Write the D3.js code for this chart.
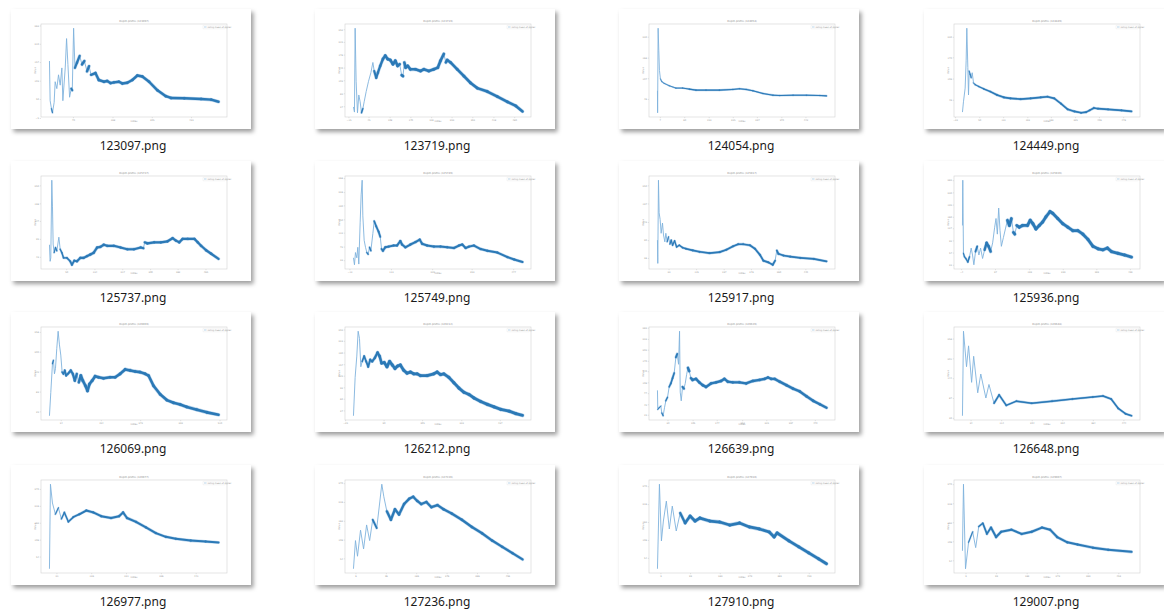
<!DOCTYPE html>
<html>
<head>
<meta charset="utf-8">
<script src="https://cdn.jsdelivr.net/npm/d3@7/dist/d3.min.js"></script>
<style>
  html, body { margin: 0; padding: 0; background: #ffffff; }
  svg { display: block; }
</style>
</head>
<body>
<svg id="grid" width="1164" height="611"></svg>
<script>
// File names shown under each thumbnail
const fileNames = ["123097.png", "123719.png", "124054.png", "124449.png",
                   "125737.png", "125749.png", "125917.png", "125936.png",
                   "126069.png", "126212.png", "126639.png", "126648.png",
                   "126977.png", "127236.png", "127910.png", "129007.png"];

// Series for each run: [step, value]
const run123097 = [[0,160],[2,45],[6,22],[9,10],[14,40],[17,100],[22,80],[27,120],[32,90],[37,140],[40,45],[47,140],[51,225],[55,150],[60,55],[65,80],[68,75],[72,255],[76,140],[82,155],[90,175],[97,150],[104,160],[112,130],[118,145],[124,120],[137,125],[147,105],[162,100],[172,102],[182,96],[192,98],[207,100],[217,95],[232,97],[247,105],[262,118],[277,115],[297,100],[322,75],[347,58],[362,53],[402,52],[452,50],[482,48],[504,42]];
const run123719 = [[0,25],[3,10],[5,255],[8,100],[12,8],[16,60],[20,40],[24,8],[28,20],[32,40],[38,70],[45,100],[52,125],[58,155],[62,130],[68,110],[73,125],[80,145],[88,165],[95,175],[102,165],[110,162],[118,150],[125,160],[132,145],[138,150],[144,118],[148,115],[152,155],[156,140],[162,145],[170,135],[185,135],[200,130],[210,135],[225,130],[240,135],[252,140],[260,160],[270,180],[276,155],[280,162],[290,155],[310,135],[330,115],[350,95],[370,80],[400,70],[430,55],[460,40],[485,28],[505,12]];
const run124054 = [[0,70],[0.5,5],[2,255],[4,190],[6,130],[9,105],[13,97],[20,92],[35,85],[55,78],[75,78],[95,75],[115,72],[145,72],[185,72],[225,74],[245,76],[265,74],[285,70],[315,62],[345,57],[365,56],[405,57],[445,57],[485,56],[505,55]];
const run124449 = [[0,10],[3,40],[8,80],[11,160],[13,255],[16,140],[18,60],[20,130],[23,120],[26,110],[29,125],[33,95],[38,90],[48,85],[63,78],[83,70],[103,60],[123,53],[143,50],[173,48],[203,50],[233,53],[253,55],[273,50],[293,35],[313,18],[333,12],[353,8],[368,10],[378,15],[391,22],[403,20],[433,18],[473,15],[503,12]];
const run125737 = [[0,78],[2,30],[4,40],[7,265],[9,190],[11,80],[14,55],[18,70],[22,60],[28,100],[32,65],[37,55],[42,40],[52,40],[62,30],[67,20],[74,32],[82,30],[92,40],[102,40],[112,45],[122,50],[132,55],[142,70],[152,72],[162,78],[172,75],[192,75],[212,70],[232,65],[252,65],[272,70],[280,68],[284,85],[292,82],[312,85],[332,85],[352,88],[367,97],[377,90],[387,85],[397,95],[412,95],[432,95],[442,85],[452,75],[467,62],[482,52],[504,37]];
const run125749 = [[0,40],[3,20],[6,55],[10,40],[13,70],[16,22],[20,140],[23,220],[26,262],[28,160],[32,90],[36,70],[40,55],[44,50],[48,70],[52,60],[58,110],[62,145],[68,130],[75,115],[80,100],[84,65],[88,60],[95,70],[105,72],[120,75],[130,75],[140,88],[145,78],[155,70],[170,78],[185,85],[198,92],[205,80],[220,75],[240,72],[260,72],[280,70],[300,68],[315,75],[325,78],[335,68],[345,72],[360,75],[380,65],[400,60],[430,55],[460,42],[480,35],[505,28]];
const run125917 = [[0,90],[1,22],[3,265],[5,170],[8,150],[11,110],[15,140],[18,105],[22,85],[25,110],[29,85],[33,100],[37,78],[41,90],[45,75],[51,88],[57,70],[65,75],[75,68],[85,65],[105,60],[125,56],[155,52],[185,55],[205,62],[225,72],[240,78],[255,78],[275,75],[290,65],[305,47],[315,30],[330,25],[343,18],[350,30],[355,60],[360,50],[375,45],[395,42],[425,38],[465,35],[503,28]];
const run125936 = [[0,135],[1,265],[3,55],[6,45],[10,40],[16,30],[21,45],[26,70],[30,50],[34,22],[39,60],[44,75],[49,50],[54,70],[60,40],[66,65],[72,85],[78,75],[84,60],[90,85],[96,130],[100,155],[104,110],[108,185],[112,120],[116,75],[122,100],[128,125],[134,150],[140,135],[146,155],[152,115],[156,110],[162,135],[169,130],[179,135],[194,135],[202,150],[210,140],[219,125],[229,135],[239,145],[249,160],[261,175],[269,170],[284,155],[299,140],[314,130],[329,120],[344,120],[359,110],[374,95],[389,75],[404,68],[419,65],[432,70],[444,60],[464,55],[484,50],[504,44]];
const run126069 = [[0,12],[4,80],[9,165],[12,175],[15,135],[18,150],[22,210],[26,260],[30,220],[34,190],[38,140],[42,135],[46,145],[50,130],[55,135],[60,140],[64,145],[70,135],[76,115],[82,135],[88,110],[94,130],[100,115],[108,100],[114,85],[120,105],[128,115],[137,128],[147,125],[162,122],[182,125],[197,125],[212,135],[227,148],[242,145],[257,142],[272,140],[287,135],[297,130],[312,100],[332,75],[352,58],[372,50],[392,45],[412,38],[442,30],[472,22],[507,15]];
const run126212 = [[0,12],[5,120],[10,180],[14,250],[18,230],[22,150],[26,165],[32,180],[38,165],[44,150],[50,170],[56,165],[64,175],[72,190],[78,180],[84,160],[92,162],[100,150],[108,165],[116,155],[124,145],[132,152],[140,155],[150,140],[160,132],[170,135],[180,130],[190,130],[200,125],[220,125],[240,130],[250,135],[260,128],[270,130],[285,120],[300,105],[315,90],[330,78],[345,72],[360,62],[380,52],[400,44],[420,37],[440,30],[465,25],[485,18],[505,13]];
const run126639 = [[0,85],[1,30],[5,35],[10,40],[13,20],[17,12],[21,35],[25,55],[30,65],[35,95],[40,105],[45,120],[50,135],[55,180],[59,190],[63,160],[66,255],[68,80],[71,55],[75,95],[79,90],[83,105],[87,130],[91,150],[95,140],[100,120],[105,115],[115,118],[125,108],[135,100],[145,95],[160,105],[175,108],[190,112],[200,118],[210,110],[225,108],[245,108],[265,105],[285,112],[305,115],[320,118],[330,122],[340,118],[350,118],[365,110],[385,100],[405,90],[425,82],[445,68],[465,55],[485,45],[505,35]];
const run126648 = [[0,36],[3,279],[12,177],[18,237],[27,132],[33,207],[45,102],[54,156],[69,87],[78,126],[93,72],[108,96],[129,66],[159,78],[204,72],[264,78],[324,84],[384,90],[414,93],[438,84],[459,57],[480,42],[498,36]];
const run126977 = [[0,15],[3,285],[9,225],[18,189],[27,210],[36,174],[45,195],[57,165],[72,180],[90,189],[111,201],[132,195],[156,183],[186,177],[210,183],[222,195],[234,177],[261,165],[291,147],[321,129],[351,117],[381,111],[426,105],[471,102],[510,99]];
const run127236 = [[0,24],[6,105],[12,60],[21,135],[30,81],[39,150],[48,105],[57,165],[69,141],[78,216],[84,267],[90,231],[99,189],[111,165],[123,195],[135,180],[150,210],[165,225],[177,231],[189,219],[201,210],[216,216],[231,201],[249,207],[267,195],[291,183],[321,165],[351,144],[381,126],[411,105],[441,87],[471,69],[501,51]];
const run127910 = [[0,21],[6,276],[12,105],[18,165],[27,225],[36,141],[45,210],[57,135],[69,189],[84,159],[99,180],[114,165],[129,174],[159,165],[189,162],[219,153],[249,159],[279,147],[309,141],[339,132],[354,117],[363,129],[399,105],[429,87],[459,69],[489,51],[513,36]];
const run129007 = [[0,81],[3,270],[9,30],[18,105],[30,135],[39,90],[48,150],[60,159],[72,129],[84,147],[99,120],[114,135],[144,141],[174,129],[204,135],[234,147],[258,141],[279,120],[309,105],[339,99],[384,90],[429,84],[498,78]];

// Tick values for each run's axes
const xTicks123097 = [70,188,305,422],              yTicks123097 = [-5,50,103,157,210,263];
const xTicks123719 = [-15,45,108,170,232,293,355,418,480], yTicks123719 = [27,65,103,140,178,215,252];
const xTicks124054 = [7,80,153,225,297,370,442],    yTicks124054 = [46,107,168,230];
const xTicks124449 = [-22,50,121,193,263,335,406,478], yTicks124449 = [46,108,170,230];
const xTicks125737 = [50,134,217,300,382,465],      yTicks125737 = [43,95,147,198,250];
const xTicks125749 = [-12,112,235,353,477],         yTicks125749 = [33,72,112,150,190,228,268];
const xTicks125917 = [33,115,197,278,360,440],      yTicks125917 = [38,90,143,197,250];
const xTicks125936 = [-4,97,199,299,399,499],       yTicks125936 = [22,57,92,127,160,195,230,265];
const xTicks126069 = [34,154,272,392,510],          yTicks126069 = [25,83,142,200,258];
const xTicks126212 = [-25,90,205,322,437],          yTicks126212 = [27,60,92,125,157,190,223,255];
const xTicks126639 = [30,105,177,253,325,397,470],  yTicks126639 = [15,45,77,108,140,170,202,233,265];
const xTicks126648 = [24,114,204,294,384,474],      yTicks126648 = [30,87,144,201,258];
const xTicks126977 = [21,126,231,336,441],          yTicks126977 = [54,108,162,216,270];
const xTicks127236 = [6,96,186,276,366,456],        yTicks127236 = [54,108,162,216,270];
const xTicks127910 = [9,99,189,279,369,459],        yTicks127910 = [54,108,162,216,270];
const xTicks129007 = [9,99,189,279,369,459],        yTicks129007 = [54,108,162,216,270];

const series = [run123097, run123719, run124054, run124449, run125737, run125749, run125917, run125936,
                run126069, run126212, run126639, run126648, run126977, run127236, run127910, run129007];
const xTickSets = [xTicks123097, xTicks123719, xTicks124054, xTicks124449, xTicks125737, xTicks125749, xTicks125917, xTicks125936,
                   xTicks126069, xTicks126212, xTicks126639, xTicks126648, xTicks126977, xTicks127236, xTicks127910, xTicks129007];
const yTickSets = [yTicks123097, yTicks123719, yTicks124054, yTicks124449, yTicks125737, yTicks125749, yTicks125917, yTicks125936,
                   yTicks126069, yTicks126212, yTicks126639, yTicks126648, yTicks126977, yTicks127236, yTicks127910, yTicks129007];

// Stroke weight of the dense (noisy) part of each trace
const traceWeight = [2.4, 2.6, 1.1, 1.6, 2.2, 2.0, 1.7, 2.8, 2.6, 2.8, 2.4, 1.5, 2.0, 2.3, 2.8, 2.0];

const svg = d3.select("#grid");
const defs = svg.append("defs");
const shadow = defs.append("filter").attr("id", "cardShadow")
  .attr("x", "-5%").attr("y", "-5%").attr("width", "115%").attr("height", "120%");
shadow.append("feDropShadow").attr("dx", 2.5).attr("dy", 3).attr("stdDeviation", 2)
  .attr("flood-color", "#000").attr("flood-opacity", 0.38);

const colX = [11, 315, 619, 924];
const rowY = [9, 161, 312, 465];
const cardW = 240, cardH = 120;
const plot = { left: 30, right: 216, top: 15, bottom: 108 };
const blue = "#1f77b4";

function padded(ext) {
  const span = ext[1] - ext[0];
  return [ext[0] - span * 0.05, ext[1] + span * 0.05];
}

series.forEach((data, i) => {
  const g = svg.append("g")
    .attr("transform", `translate(${colX[i % 4]},${rowY[Math.floor(i / 4)]})`);

  g.append("rect").attr("width", cardW).attr("height", cardH)
    .attr("fill", "#fff").attr("filter", "url(#cardShadow)");

  const x = d3.scaleLinear().domain(padded(d3.extent(data, d => d[0]))).range([plot.left, plot.right]);
  const y = d3.scaleLinear().domain(padded(d3.extent(data, d => d[1]))).range([plot.bottom, plot.top]);

  // axes
  const xa = g.append("g").attr("transform", `translate(0,${plot.bottom})`)
    .call(d3.axisBottom(x).tickValues(xTickSets[i]).tickSize(1.2).tickPadding(0.8).tickFormat(d3.format("d")));
  const ya = g.append("g").attr("transform", `translate(${plot.left},0)`)
    .call(d3.axisLeft(y).tickValues(yTickSets[i]).tickSize(1.2).tickPadding(0.8).tickFormat(d3.format("d")));
  [xa, ya].forEach(a => {
    a.select(".domain").remove();
    a.selectAll(".tick line").attr("stroke", "#b5b5b5").attr("stroke-width", 0.4);
    a.selectAll(".tick text").attr("fill", "#9a9a9a").style("font-size", "2.3px")
      .style("font-family", "DejaVu Sans");
  });

  g.append("rect")
    .attr("x", plot.left).attr("y", plot.top)
    .attr("width", plot.right - plot.left).attr("height", plot.bottom - plot.top)
    .attr("fill", "none").attr("stroke", "#d2d2d2").attr("stroke-width", 0.6);

  const runId = fileNames[i].replace(".png", "");
  g.append("text").attr("x", (plot.left + plot.right) / 2).attr("y", plot.top - 1.6)
    .attr("text-anchor", "middle").attr("fill", "#8d8d8d")
    .style("font-size", "2.6px").style("font-family", "DejaVu Sans")
    .text(`Depth profile (${runId})`);
  g.append("text").attr("x", (plot.left + plot.right) / 2).attr("y", plot.bottom + 5)
    .attr("text-anchor", "middle").attr("fill", "#9a9a9a")
    .style("font-size", "2.5px").style("font-family", "DejaVu Sans").text("Index");
  g.append("text").attr("transform", `translate(${plot.left - 5.5},${(plot.top + plot.bottom) / 2}) rotate(-90)`)
    .attr("text-anchor", "middle").attr("fill", "#9a9a9a")
    .style("font-size", "2.5px").style("font-family", "DejaVu Sans").text("Value");

  // legend
  const lg = g.append("g").attr("transform", `translate(${plot.right - 24},${plot.top + 1.2})`);
  lg.append("rect").attr("width", 22.5).attr("height", 3.6).attr("rx", 0.5)
    .attr("fill", "#fff").attr("stroke", "#dcdcdc").attr("stroke-width", 0.3);
  lg.append("line").attr("x1", 1).attr("x2", 3.6).attr("y1", 1.8).attr("y2", 1.8)
    .attr("stroke", blue).attr("stroke-width", 0.5).attr("opacity", 0.6);
  lg.append("text").attr("x", 4.4).attr("y", 2.6).attr("fill", "#8d8d8d")
    .style("font-size", "2.2px").style("font-family", "DejaVu Sans").text("rolling mean of signal");

  // trace: thin full line, then heavier strokes where the series is dense
  const clip = "clip" + i;
  g.append("clipPath").attr("id", clip).append("rect")
    .attr("x", plot.left).attr("y", plot.top)
    .attr("width", plot.right - plot.left).attr("height", plot.bottom - plot.top);
  const tg = g.append("g").attr("clip-path", `url(#${clip})`);

  const lineGen = d3.line().x(d => x(d[0])).y(d => y(d[1]));

  tg.append("path").datum(data)
    .attr("d", lineGen)
    .attr("fill", "none").attr("stroke", "#7fb2dc").attr("stroke-width", 0.9)
    .attr("stroke-linejoin", "round");

  const xMin = data[0][0], xMax = data[data.length - 1][0];
  const segs = d3.pairs(data).filter(([a, b]) => {
    const dx = Math.abs(x(b[0]) - x(a[0])), dy = Math.abs(y(b[1]) - y(a[1]));
    return dy < 3 * dx + 1.2;
  });
  const weight = s => {
    const frac = (s[0][0] - xMin) / (xMax - xMin);
    return traceWeight[i] * Math.min(1, 0.35 + frac * 3.5);
  };

  // soft halo under the dense strokes
  tg.selectAll("path.halo").data(segs).join("path")
    .attr("class", "halo")
    .attr("d", lineGen)
    .attr("fill", "none")
    .attr("stroke", "#6aa5d6")
    .attr("stroke-opacity", 0.45)
    .attr("stroke-linecap", "round")
    .attr("stroke-width", s => weight(s) + 1.1);

  tg.selectAll("path.dense").data(segs).join("path")
    .attr("class", "dense")
    .attr("d", lineGen)
    .attr("fill", "none")
    .attr("stroke", "#2b79b6")
    .attr("stroke-linecap", "round")
    .attr("stroke-width", weight);

  // file name caption
  svg.append("text")
    .attr("x", colX[i % 4] + cardW / 2 + 2)
    .attr("y", rowY[Math.floor(i / 4)] + 141)
    .attr("text-anchor", "middle")
    .attr("fill", "#1a1a1a")
    .style("font-family", "Noto Sans, Open Sans, sans-serif")
    .style("font-size", "12px")
    .text(fileNames[i]);
});
</script>
</body>
</html>
